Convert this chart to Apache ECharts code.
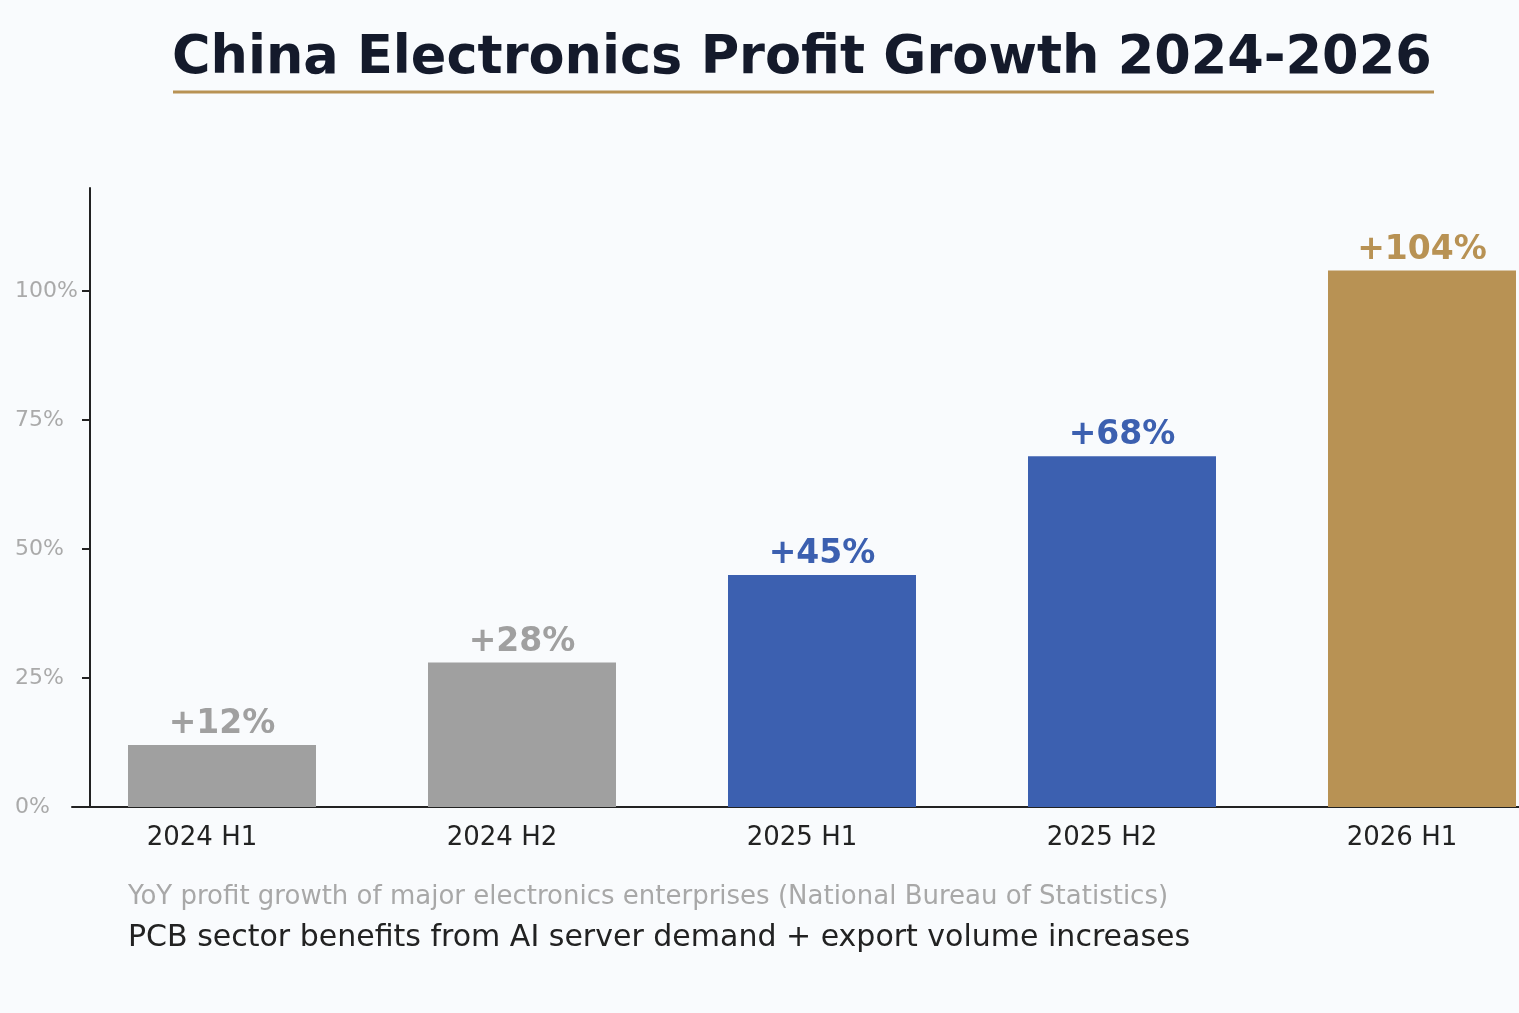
<!DOCTYPE html>
<html lang="en">
<head>
<meta charset="UTF-8">
<title>China Electronics Profit Growth 2024-2026</title>
<script src="https://cdn.jsdelivr.net/npm/echarts@6/dist/echarts.min.js"></script>
<style>
  html, body { margin: 0; padding: 0; background: #f9fbfd; }
  #chart { width: 1519px; height: 1013px; }
</style>
</head>
<body>
<div id="chart"></div>
<script>
// data
var periods = ['2024 H1', '2024 H2', '2025 H1', '2025 H2', '2026 H1'];
var growth = [12, 28, 45, 68, 104];
var barColors = ['#a0a0a0', '#a0a0a0', '#3c60b0', '#3c60b0', '#b89254'];
var yTicks = [0, 25, 50, 75, 100];

var font = '"DejaVu Sans", Verdana, sans-serif';

var chart = echarts.init(document.getElementById('chart'));

var option = {
  backgroundColor: '#f9fbfd',
  animation: false,
  title: [
    {
      text: 'China Electronics Profit Growth 2024-2026',
      left: 172, top: 33, padding: 0,
      textStyle: { fontFamily: font, fontSize: 52.5, fontWeight: 'bold', color: '#141a2b' }
    },
    {
      text: 'YoY profit growth of major electronics enterprises (National Bureau of Statistics)',
      left: 128, top: 884, padding: 0,
      textStyle: { fontFamily: font, fontSize: 26, fontWeight: 'normal', color: '#a8a8a8' }
    },
    {
      text: 'PCB sector benefits from AI server demand + export volume increases',
      left: 128, top: 923, padding: 0,
      textStyle: { fontFamily: font, fontSize: 30, fontWeight: 'normal', color: '#222222' }
    }
  ],
  graphic: [
    {
      type: 'line',
      shape: { x1: 173, y1: 92, x2: 1434, y2: 92 },
      style: { stroke: '#b89254', lineWidth: 3 }
    }
  ],
  // category band is 300px wide; first band starts 18px left of the y axis,
  // last band runs past the right edge of the canvas
  grid: { left: 72, width: 1500, top: 188, bottom: 206, outerBoundsMode: 'none', containLabel: false },
  xAxis: {
    type: 'category',
    data: periods,
    axisLine: { lineStyle: { color: '#222222', width: 2 } },
    axisTick: { show: false },
    axisLabel: {
      fontFamily: font, fontSize: 26, color: '#222222',
      margin: 18, padding: [0, 40, 0, 0]
    }
  },
  yAxis: {
    type: 'value',
    min: 0, max: 120,
    offset: -18,
    splitLine: { show: false },
    axisLine: { show: true, lineStyle: { color: '#222222', width: 2 } },
    axisTick: { show: true, length: 8, customValues: yTicks, lineStyle: { color: '#222222', width: 2 } },
    axisLabel: {
      customValues: yTicks,
      fontFamily: font, fontSize: 22, color: '#aaaaaa',
      align: 'left', margin: 75,
      formatter: '{value}%'
    }
  },
  series: [
    {
      type: 'bar',
      barWidth: 188,
      data: growth.map(function (v, i) {
        return {
          value: v,
          itemStyle: { color: barColors[i] },
          label: { color: barColors[i] }
        };
      }),
      label: {
        show: true, position: 'top', distance: 4,
        fontFamily: font, fontSize: 33, fontWeight: 'bold',
        formatter: function (p) { return '+' + p.value + '%'; }
      }
    }
  ]
};

chart.setOption(option);
</script>
</body>
</html>
